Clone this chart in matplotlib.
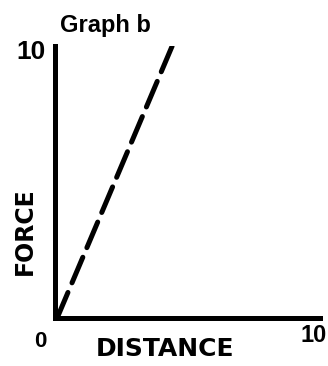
import matplotlib
matplotlib.use('Agg')
import matplotlib.pyplot as plt

plt.rcParams['font.family'] = ['Liberation Sans', 'DejaVu Sans']
plt.rcParams['lines.scale_dashes'] = False

# data: the dashed force/distance line
dist = [0.08, 4.42]
force = [0.0, 10.0]

title = 'Graph b'
xlabel = 'DISTANCE'
ylabel = 'FORCE'
x_lim = (0, 10)
y_lim = (0, 10)

fig = plt.figure(figsize=(3.28, 3.66), dpi=100)
ax = fig.add_axes([0.1677, 0.1311, 0.808, 0.743])

ax.plot(dist, force, color='black', lw=3.6, dashes=(20, 7.5),
        solid_capstyle='round', dash_capstyle='round')

ax.set_xlim(*x_lim)
ax.set_ylim(*y_lim)
ax.set_xticks([])
ax.set_yticks([])
for side in ['top', 'right']:
    ax.spines[side].set_visible(False)
for side in ['left', 'bottom']:
    ax.spines[side].set_linewidth(3.6)
    ax.spines[side].set_capstyle('projecting')

# axis end labels
ax.text(-0.9, 9.78, '10', fontsize=19, fontweight='bold', ha='center', va='center')
ax.text(-0.57, -0.85, '0', fontsize=16, fontweight='bold', ha='center', va='center')
ax.text(9.77, -0.63, '10', fontsize=17, fontweight='bold', ha='center', va='center', clip_on=False)

# wider face for the spaced-out axis names
ax.text(4.15, -1.14, xlabel, fontsize=18, fontweight='bold', family='DejaVu Sans',
        ha='center', va='center')
ax.text(-1.13, 3.2, ylabel, fontsize=17, fontweight='bold', family='DejaVu Sans',
        ha='center', va='center', rotation=90)
ax.text(1.89, 10.77, title, fontsize=17, fontweight='bold', ha='center', va='center')

fig.savefig('out.png', dpi=100)
